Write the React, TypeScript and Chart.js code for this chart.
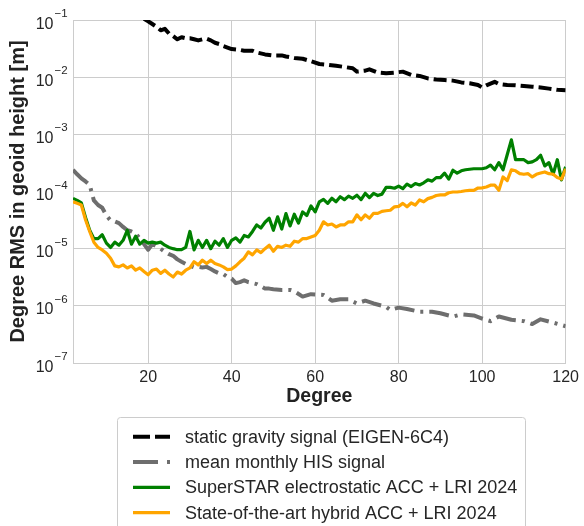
import React, { useEffect, useRef } from 'react';
import { Chart, registerables } from 'chart.js';

Chart.register(...registerables);

const FONT = "'Liberation Sans', Arial, Helvetica, sans-serif";

// Degrees for the two ACC+LRI series (every degree 2..120)
const accDegrees = Array.from({ length: 119 }, (_, i) => i + 2);

const superstarValues = [
  7.6e-5, 7.0e-5, 6.3e-5, 3.5e-5, 2.1e-5, 1.5e-5, 1.5e-5, 1.75e-5, 1.25e-5, 1.05e-5,
  1.3e-5, 1.15e-5, 1.4e-5, 2.1e-5, 1.2e-5, 1.65e-5, 1.2e-5, 1.4e-5, 1.25e-5, 1.3e-5,
  1.25e-5, 1.3e-5, 1.15e-5, 1.05e-5, 1.0e-5, 9.6e-6, 9.6e-6, 1.05e-5, 2.0e-5, 9.5e-6,
  1.4e-5, 1.05e-5, 1.4e-5, 1.0e-5, 1.35e-5, 1.15e-5, 1.5e-5, 1.05e-5, 1.4e-5, 1.55e-5,
  1.3e-5, 1.7e-5, 1.6e-5, 2.0e-5, 2.6e-5, 2.3e-5, 2.9e-5, 3.4e-5, 2.1e-5, 3.6e-5,
  2.2e-5, 4.1e-5, 2.5e-5, 4.0e-5, 2.8e-5, 4.4e-5, 3.8e-5, 5.6e-5, 4.4e-5, 6.6e-5,
  7.3e-5, 6.2e-5, 7.6e-5, 6.6e-5, 8.1e-5, 7.2e-5, 8.3e-5, 7.6e-5, 8.6e-5, 7.2e-5,
  9.3e-5, 7.8e-5, 9.3e-5, 8.5e-5, 9.0e-5, 1.18e-4, 1.18e-4, 1.14e-4, 1.24e-4, 1.12e-4,
  1.35e-4, 1.22e-4, 1.38e-4, 1.3e-4, 1.42e-4, 1.6e-4, 1.52e-4, 1.75e-4, 1.75e-4, 2.1e-4,
  1.65e-4, 2.35e-4, 2.1e-4, 2.3e-4, 2.4e-4, 2.45e-4, 2.5e-4, 2.5e-4, 2.5e-4, 2.6e-4,
  2.9e-4, 2.4e-4, 3.2e-4, 2.4e-4, 4.4e-4, 8.0e-4, 3.6e-4, 3.6e-4, 3.6e-4, 3.2e-4,
  3.3e-4, 3.6e-4, 4.3e-4, 2.8e-4, 3.2e-4, 2.0e-4, 3.6e-4, 1.6e-4, 2.7e-4,
];

const hybridValues = [
  6.6e-5, 6.2e-5, 5.8e-5, 3.2e-5, 2.0e-5, 1.3e-5, 1.05e-5, 9.5e-6, 8.3e-6, 6.8e-6,
  5.0e-6, 4.8e-6, 5.2e-6, 4.6e-6, 5.0e-6, 4.2e-6, 4.6e-6, 4.0e-6, 3.5e-6, 4.2e-6,
  4.4e-6, 3.7e-6, 4.2e-6, 3.6e-6, 3.2e-6, 3.9e-6, 3.6e-6, 4.2e-6, 4.6e-6, 5.9e-6,
  5.2e-6, 6.3e-6, 5.5e-6, 6.3e-6, 5.5e-6, 5.2e-6, 4.8e-6, 4.3e-6, 4.4e-6, 5.0e-6,
  5.9e-6, 6.8e-6, 8.8e-6, 7.8e-6, 9.5e-6, 8.5e-6, 1.0e-5, 1.15e-5, 9.0e-6, 1.1e-5,
  1.05e-5, 1.15e-5, 1.1e-5, 1.35e-5, 1.3e-5, 1.5e-5, 1.5e-5, 1.6e-5, 1.7e-5, 2.1e-5,
  2.95e-5, 2.6e-5, 2.7e-5, 2.4e-5, 2.6e-5, 2.6e-5, 2.95e-5, 2.95e-5, 3.9e-5, 3.2e-5,
  3.9e-5, 3.4e-5, 4.15e-5, 4.15e-5, 4.5e-5, 4.6e-5, 4.7e-5, 5.4e-5, 5.5e-5, 6.2e-5,
  5.4e-5, 6.3e-5, 5.8e-5, 7.1e-5, 6.6e-5, 7.5e-5, 7.9e-5, 8.5e-5, 8.7e-5, 8.7e-5,
  9.5e-5, 9.8e-5, 9.8e-5, 1.0e-4, 1.03e-4, 1.05e-4, 1.05e-4, 1.15e-4, 1.16e-4, 1.2e-4,
  1.29e-4, 1.3e-4, 1.05e-4, 1.8e-4, 1.55e-4, 2.4e-4, 2.3e-4, 2.05e-4, 2.0e-4, 2.05e-4,
  1.8e-4, 2.0e-4, 2.1e-4, 2.2e-4, 2.05e-4, 2.0e-4, 1.75e-4, 1.65e-4, 2.5e-4,
];

// Static gravity signal (EIGEN-6C4)
const staticDegrees = [
  19, 20, 21, 22, 23, 24, 25, 26, 27, 28, 29, 30, 31, 32, 33, 34, 35, 36, 37, 38, 39, 40,
  42, 43, 45, 46, 48, 50, 52, 53, 55, 57, 59, 61, 63, 65, 67, 69, 70, 72, 73, 75, 77, 79,
  81, 83, 85, 87, 89, 91, 93, 95, 97, 99, 100, 101, 103, 104, 106, 108, 110, 112, 114, 116,
  118, 120,
];
const staticValues = [
  0.105, 0.095, 0.085, 0.076, 0.066, 0.07, 0.058, 0.052, 0.046, 0.05, 0.048, 0.048, 0.046,
  0.044, 0.046, 0.047, 0.044, 0.04, 0.038, 0.035, 0.033, 0.031, 0.03, 0.029, 0.029, 0.027,
  0.025, 0.024, 0.024, 0.023, 0.0216, 0.021, 0.019, 0.017, 0.0165, 0.0158, 0.0151, 0.0143,
  0.0125, 0.013, 0.0137, 0.012, 0.0117, 0.012, 0.0125, 0.011, 0.0105, 0.0095, 0.0091,
  0.0089, 0.0087, 0.0081, 0.0078, 0.0073, 0.0066, 0.0072, 0.0083, 0.0076, 0.0073, 0.0072,
  0.007, 0.0068, 0.0066, 0.0063, 0.006, 0.0059,
];

// Mean monthly HIS signal
const hisDegrees = [
  2, 3, 4, 5, 6, 7, 8, 9, 10, 11, 12, 13, 14, 15, 16, 17, 18, 19, 20, 21, 22, 23, 24, 25,
  26, 27, 28, 29, 30, 31, 32, 33, 34, 35, 36, 37, 38, 39, 40, 41, 42, 43, 44, 45, 46, 47,
  48, 49, 50, 52, 54, 55, 57, 59, 62, 64, 66, 68, 70, 72, 74, 77, 78, 80, 82, 85, 88, 90,
  93, 95, 98, 100, 102, 104, 107, 110, 112, 114, 117, 120,
];
const hisValues = [
  2.4e-4, 2.0e-4, 1.7e-4, 1.5e-4, 1.3e-4, 7.0e-5, 5.8e-5, 5.2e-5, 3.8e-5, 3.1e-5, 3.0e-5,
  2.8e-5, 2.4e-5, 2.1e-5, 2.0e-5, 1.85e-5, 1.5e-5, 1.2e-5, 9.6e-6, 1.2e-5, 1.1e-5, 1.0e-5,
  8.8e-6, 8.0e-6, 7.5e-6, 6.5e-6, 5.9e-6, 5.4e-6, 5.0e-6, 4.7e-6, 4.8e-6, 4.7e-6, 4.8e-6,
  4.4e-6, 4.0e-6, 3.7e-6, 3.6e-6, 3.2e-6, 3.0e-6, 2.5e-6, 2.6e-6, 2.8e-6, 2.6e-6, 2.5e-6,
  2.4e-6, 2.2e-6, 2.0e-6, 2.0e-6, 1.95e-6, 1.9e-6, 1.9e-6, 1.8e-6, 1.45e-6, 1.6e-6, 1.55e-6,
  1.23e-6, 1.3e-6, 1.3e-6, 1.1e-6, 1.23e-6, 1.1e-6, 9.6e-7, 8.5e-7, 9.3e-7, 8.8e-7, 7.9e-7,
  7.9e-7, 7.4e-7, 6.5e-7, 7.1e-7, 6.8e-7, 6.0e-7, 5.4e-7, 6.5e-7, 5.7e-7, 5.4e-7, 4.8e-7,
  5.8e-7, 5.1e-7, 4.4e-7,
];

const xTickValues = [20, 40, 60, 80, 100, 120];
const yTickExponents = [-7, -6, -5, -4, -3, -2, -1];

const seriesLabels = [
  'static gravity signal (EIGEN-6C4)',
  'mean monthly HIS signal',
  'SuperSTAR electrostatic ACC + LRI 2024',
  'State-of-the-art hybrid ACC + LRI 2024',
];
const seriesColors = ['#000000', '#6e6e6e', '#008000', '#ffa500'];
const seriesDashes = [[13, 5], [20, 6, 3, 6], [], []];
const legendDashes = [[17, 5], [25, 9, 3, 9], [], []];
const seriesWidths = [4, 4, 3.2, 3.2];

const toPoints = (xs: number[], ys: number[]) => xs.map((x, i) => ({ x, y: ys[i] }));

const superscript = (n: number) => (n < 0 ? '\u2212' : '') + String(Math.abs(n));

const yLabelPlugin = {
  id: 'yLabels',
  afterDraw(chart: any) {
    const ctx = chart.ctx;
    const y = chart.scales.y;
    ctx.save();
    ctx.fillStyle = '#262626';
    ctx.textBaseline = 'alphabetic';
    yTickExponents.forEach((e) => {
      const py = y.getPixelForValue(Math.pow(10, e));
      ctx.font = `16px ${FONT}`;
      ctx.textAlign = 'right';
      ctx.fillText('10', 53.5, py + 8.5);
      ctx.font = `11.5px ${FONT}`;
      ctx.textAlign = 'left';
      ctx.fillText(superscript(e), 54.5, py - 3);
    });
    ctx.restore();
  },
};

const legendPlugin = {
  id: 'boxLegend',
  afterDraw(chart: any) {
    const ctx = chart.ctx;
    ctx.save();
    const x0 = 117.5, y0 = 417.5, x1 = 525.5, y1 = 532;
    const r = 3;
    ctx.beginPath();
    ctx.moveTo(x0 + r, y0);
    ctx.lineTo(x1 - r, y0);
    ctx.arcTo(x1, y0, x1, y0 + r, r);
    ctx.lineTo(x1, y1 - r);
    ctx.arcTo(x1, y1, x1 - r, y1, r);
    ctx.lineTo(x0 + r, y1);
    ctx.arcTo(x0, y1, x0, y1 - r, r);
    ctx.lineTo(x0, y0 + r);
    ctx.arcTo(x0, y0, x0 + r, y0, r);
    ctx.closePath();
    ctx.fillStyle = '#ffffff';
    ctx.fill();
    ctx.strokeStyle = '#cccccc';
    ctx.lineWidth = 1;
    ctx.stroke();

    seriesLabels.forEach((label, i) => {
      const cy = 436.7 + i * 25.3;
      ctx.beginPath();
      ctx.setLineDash(legendDashes[i]);
      ctx.lineCap = 'butt';
      ctx.strokeStyle = seriesColors[i];
      ctx.lineWidth = seriesWidths[i];
      ctx.moveTo(133, cy);
      ctx.lineTo(170, cy);
      ctx.stroke();
      ctx.setLineDash([]);
      ctx.fillStyle = '#262626';
      ctx.font = `18px ${FONT}`;
      ctx.textAlign = 'left';
      ctx.textBaseline = 'middle';
      ctx.fillText(label, 185, cy + 1);
    });
    ctx.restore();
  },
};

export default function App() {
  const canvasRef = useRef<HTMLCanvasElement>(null);

  useEffect(() => {
    if (!canvasRef.current) return;
    const seriesData = [
      toPoints(staticDegrees, staticValues),
      toPoints(hisDegrees, hisValues),
      toPoints(accDegrees, superstarValues),
      toPoints(accDegrees, hybridValues),
    ];
    const chart = new Chart(canvasRef.current, {
      type: 'line',
      data: {
        datasets: seriesLabels.map((label, i) => ({
          label,
          data: seriesData[i],
          borderColor: seriesColors[i],
          backgroundColor: seriesColors[i],
          borderWidth: seriesWidths[i],
          borderDash: seriesDashes[i],
          borderCapStyle: 'butt',
          borderJoinStyle: 'round',
          pointRadius: 0,
          tension: 0,
          fill: false,
          clip: 0,
          order: 4 - i,
        })),
      },
      options: {
        animation: false,
        responsive: false,
        devicePixelRatio: 1,
        layout: { padding: { left: 0, top: 20, right: 17, bottom: 115 } },
        plugins: {
          legend: { display: false },
          tooltip: { enabled: false },
        },
        scales: {
          x: {
            type: 'linear',
            min: 2,
            max: 120,
            afterBuildTicks: (s: any) => {
              s.ticks = xTickValues.map((v) => ({ value: v }));
            },
            afterFit: (s: any) => {
              s.height = 48;
            },
            ticks: {
              font: { family: FONT, size: 16 },
              color: '#262626',
              padding: 5,
              maxRotation: 0,
              autoSkip: false,
            },
            grid: { color: '#cccccc', lineWidth: 1, drawTicks: false },
            border: { color: '#cccccc' },
            title: {
              display: true,
              text: 'Degree',
              font: { family: FONT, size: 19.5, weight: 'bold' },
              color: '#222222',
              padding: { top: 0, bottom: 2.3 },
            },
          },
          y: {
            type: 'logarithmic',
            min: 1e-7,
            max: 1e-1,
            afterBuildTicks: (s: any) => {
              s.ticks = yTickExponents.map((e) => ({ value: Math.pow(10, e) }));
            },
            afterFit: (s: any) => {
              s.width = 73;
            },
            ticks: { display: false },
            grid: { color: '#cccccc', lineWidth: 1, drawTicks: false },
            border: { color: '#cccccc' },
            title: {
              display: true,
              text: 'Degree RMS in geoid height [m]',
              font: { family: FONT, size: 20, weight: 'bold' },
              color: '#222222',
              padding: { top: 6.5, bottom: 0 },
            },
          },
        },
      } as any,
      plugins: [yLabelPlugin, legendPlugin],
    });
    return () => chart.destroy();
  }, []);

  return (
    <div style={{ position: 'fixed', left: 0, top: 0, width: 584, height: 526, background: '#fff' }}>
      <canvas ref={canvasRef} width={584} height={526} style={{ display: 'block' }} />
    </div>
  );
}
